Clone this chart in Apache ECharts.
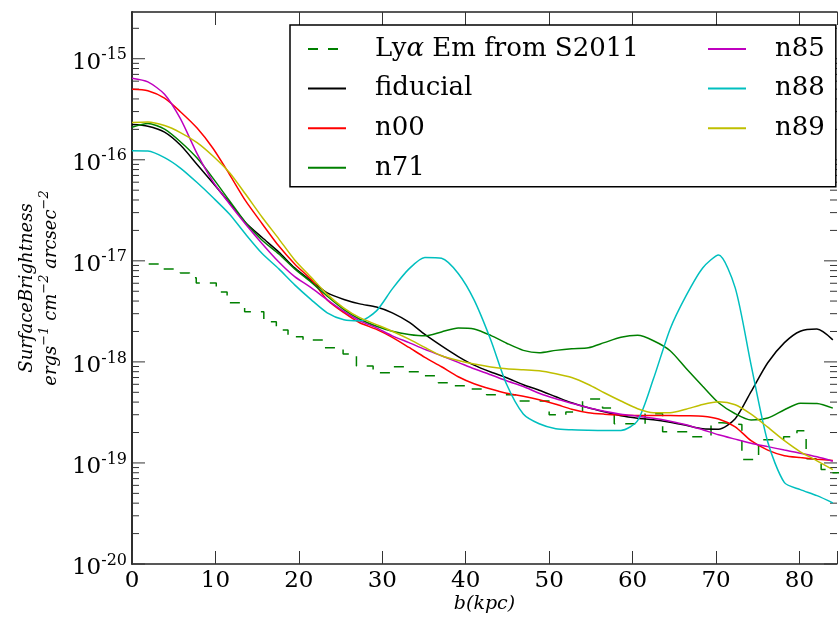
<!DOCTYPE html>
<html>
<head>
<meta charset="utf-8">
<title>Surface brightness profiles</title>
<script src="https://cdn.jsdelivr.net/npm/echarts@6/dist/echarts.min.js"></script>
<style>
  html, body { margin: 0; padding: 0; background: #fff; }
  #chart { width: 840px; height: 619px; }
</style>
</head>
<body>
<div id="chart"></div>
<script>
var radius = [0, 1.9, 3.9, 5.8, 7.8, 9.7, 11.7, 13.6, 15.6, 17.6, 19.5, 21.5, 23.4, 25.4, 27.3,
  29.3, 31.2, 33.2, 35.1, 37.1, 39.1, 41.0, 43.0, 44.9, 46.9, 48.8, 50.8, 52.7, 54.7, 56.6,
  58.6, 60.6, 62.5, 64.5, 66.4, 68.4, 70.3, 72.3, 74.2, 76.2, 78.2, 80.1, 82.1, 84.0];

var fiducial = [2.23e-16, 2.15e-16, 1.88e-16, 1.40e-16, 9.0e-17, 5.89e-17, 3.73e-17, 2.40e-17, 1.70e-17, 1.22e-17,
  8.51e-18, 6.3e-18, 4.82e-18, 4.15e-18, 3.75e-18, 3.49e-18, 3.06e-18, 2.47e-18, 1.87e-18, 1.44e-18,
  1.13e-18, 9.28e-19, 7.93e-19, 6.97e-19, 5.94e-19, 5.24e-19, 4.52e-19, 3.94e-19, 3.52e-19, 3.21e-19,
  2.93e-19, 2.77e-19, 2.68e-19, 2.53e-19, 2.36e-19, 2.18e-19, 2.16e-19, 2.74e-19, 5.07e-19, 9.8e-19,
  1.55e-18, 2.01e-18, 2.11e-18, 1.65e-18];

var n00 = [5.0e-16, 4.83e-16, 4.07e-16, 2.99e-16, 2.06e-16, 1.30e-16, 7.14e-17, 3.94e-17, 2.33e-17, 1.40e-17,
  9.32e-18, 6.48e-18, 4.11e-18, 3.07e-18, 2.44e-18, 2.10e-18, 1.75e-18, 1.39e-18, 1.11e-18, 8.95e-19,
  7.13e-19, 6.08e-19, 5.39e-19, 4.90e-19, 4.57e-19, 4.22e-19, 3.81e-19, 3.40e-19, 3.14e-19, 3.04e-19,
  2.98e-19, 2.95e-19, 2.95e-19, 2.95e-19, 2.93e-19, 2.90e-19, 2.72e-19, 2.28e-19, 1.66e-19, 1.34e-19,
  1.18e-19, 1.13e-19, 1.09e-19, 1.06e-19];

var n71 = [2.10e-16, 2.29e-16, 2.01e-16, 1.51e-16, 1.04e-16, 6.59e-17, 3.91e-17, 2.40e-17, 1.60e-17, 1.17e-17,
  8.32e-18, 6.12e-18, 4.47e-18, 3.29e-18, 2.64e-18, 2.25e-18, 2.01e-18, 1.87e-18, 1.81e-18, 1.98e-18,
  2.17e-18, 2.12e-18, 1.83e-18, 1.53e-18, 1.30e-18, 1.23e-18, 1.30e-18, 1.35e-18, 1.38e-18, 1.55e-18,
  1.75e-18, 1.83e-18, 1.62e-18, 1.29e-18, 8.65e-19, 5.74e-19, 3.94e-19, 3.07e-19, 2.66e-19, 2.78e-19,
  3.36e-19, 3.90e-19, 3.88e-19, 3.49e-19];

var n85 = [6.42e-16, 5.90e-16, 4.45e-16, 2.55e-16, 1.15e-16, 6.09e-17, 3.65e-17, 2.32e-17, 1.48e-17, 9.75e-18,
  6.98e-18, 5.40e-18, 4.11e-18, 3.16e-18, 2.55e-18, 2.17e-18, 1.81e-18, 1.55e-18, 1.33e-18, 1.15e-18,
  9.9e-19, 8.55e-19, 7.46e-19, 6.50e-19, 5.70e-19, 4.90e-19, 4.32e-19, 3.90e-19, 3.52e-19, 3.25e-19,
  3.04e-19, 2.90e-19, 2.77e-19, 2.59e-19, 2.39e-19, 2.13e-19, 1.90e-19, 1.72e-19, 1.57e-19, 1.45e-19,
  1.34e-19, 1.25e-19, 1.15e-19, 1.04e-19];

var n88 = [1.23e-16, 1.22e-16, 1.05e-16, 8.28e-17, 5.95e-17, 4.23e-17, 2.89e-17, 1.84e-17, 1.18e-17, 8.32e-18,
  5.78e-18, 4.11e-18, 3.06e-18, 2.61e-18, 2.55e-18, 3.20e-18, 5.28e-18, 8.32e-18, 1.08e-17, 1.06e-17,
  7.50e-18, 4.11e-18, 1.65e-18, 6.0e-19, 3.05e-19, 2.44e-19, 2.18e-19, 2.13e-19, 2.11e-19, 2.10e-19,
  2.10e-19, 2.62e-19, 6.8e-19, 2.12e-18, 4.50e-18, 8.51e-18, 1.14e-17, 5.40e-18, 9.36e-19, 1.61e-19,
  6.38e-20, 5.45e-20, 4.75e-20, 4.03e-20];

var n89 = [2.34e-16, 2.37e-16, 2.18e-16, 1.86e-16, 1.48e-16, 1.09e-16, 7.44e-17, 4.58e-17, 2.70e-17, 1.65e-17,
  1.02e-17, 6.82e-18, 4.66e-18, 3.41e-18, 2.74e-18, 2.34e-18, 2.01e-18, 1.68e-18, 1.39e-18, 1.15e-18,
  1.03e-18, 9.51e-19, 8.91e-19, 8.55e-19, 8.36e-19, 8.17e-19, 7.63e-19, 7.00e-19, 5.98e-19, 4.95e-19,
  4.10e-19, 3.44e-19, 3.14e-19, 3.14e-19, 3.40e-19, 3.79e-19, 4.03e-19, 3.77e-19, 3.04e-19, 2.26e-19,
  1.66e-19, 1.29e-19, 1.05e-19, 8.59e-20];

// observed Lya emission (S2011), binned -> drawn as steps
var lyaRadius = [2.0, 3.6, 5.8, 6.9, 7.7, 10.1, 11.4, 13.5, 15.8, 17.3, 18.7, 20.5, 23.0, 25.3, 26.9,
  28.9, 31.2, 33.1, 35.0, 36.7, 38.6, 40.5, 42.5, 46.0, 50.0, 52.0, 54.0, 56.4, 57.8, 61.5,
  63.6, 67.1, 69.4, 70.7, 73.1, 75.1, 78.1, 79.7, 80.8, 82.6, 83.6, 85.0];
var lyaEm = [9.3e-18, 8.3e-18, 7.6e-18, 6.8e-18, 6.05e-18, 4.93e-18, 3.84e-18, 3.13e-18, 2.49e-18, 2.07e-18,
  1.77e-18, 1.65e-18, 1.38e-18, 1.20e-18, 9.1e-19, 7.8e-19, 8.95e-19, 7.97e-19, 7.3e-19, 6.2e-19,
  5.8e-19, 5.4e-19, 4.73e-19, 4.1e-19, 3.0e-19, 3.2e-19, 4.3e-19, 3.5e-19, 2.44e-19, 3.07e-19,
  2.04e-19, 1.82e-19, 2.5e-19, 2.4e-19, 1.08e-19, 1.70e-19, 1.82e-19, 2.08e-19, 1.1e-19, 8.6e-20,
  8.0e-20, 8.0e-20];

var LYA = 'Ly\u03b1 Em from S2011';
var legendLeft = [LYA, 'fiducial', 'n00', 'n71'];
var legendRight = ['n85', 'n88', 'n89'];

// axis ranges; log ticks: majors at each decade, minors at 2..9
var X_MIN = 0, X_MAX = 84.5;
var Y_MIN = 1e-20, Y_MAX = 2.9e-15;
var tickDecades = [-20, -19, -18, -17, -16, -15];
var minorMantissas = [2, 3, 4, 5, 6, 7, 8, 9];

var yTickMarks = [];
tickDecades.forEach(function (d) {
  yTickMarks.push([X_MIN, Math.pow(10, d), 13]);
  minorMantissas.forEach(function (m) {
    var v = m * Math.pow(10, d);
    if (v < Y_MAX) yTickMarks.push([X_MIN, v, 7]);
  });
});

var FONT = 'DejaVu Serif';
var TICK = '#333';

function pairs(xs, ys) {
  return xs.map(function (x, i) { return [x, ys[i]]; });
}

function curve(name, color, values) {
  return {
    name: name,
    type: 'line',
    data: pairs(radius, values),
    symbol: 'none',
    smooth: 0.25,
    lineStyle: { color: color, width: 1.5 },
    itemStyle: { color: color },
    z: 3
  };
}

var legendText = {
  fontFamily: FONT,
  fontSize: 26,
  lineHeight: 30,
  color: '#000',
  padding: [0, 0, 0, 24],
  rich: {
    g: { fontFamily: FONT, fontStyle: 'italic', fontSize: 26, lineHeight: 30 }
  }
};

var myChart = echarts.init(document.getElementById('chart'), null, { renderer: 'canvas' });

var option = {
  animation: false,
  backgroundColor: '#fff',
  grid: { left: 132, top: 12, width: 712, height: 552 },
  legend: [
    {
      orient: 'vertical',
      left: 290,
      top: 25,
      data: legendLeft,
      itemWidth: 38,
      itemHeight: 14,
      itemGap: 9.6,
      padding: [9, 197, 4, 17],
      borderColor: '#000',
      borderWidth: 1.5,
      backgroundColor: '#fff',
      selectedMode: false,
      itemStyle: { opacity: 0 },
      textStyle: legendText,
      formatter: function (name) {
        return name === LYA ? 'Ly{g|\u03b1} Em from S2011' : name;
      }
    },
    {
      orient: 'vertical',
      left: 707,
      top: 34,
      data: legendRight,
      itemWidth: 38,
      itemHeight: 14,
      itemGap: 9.6,
      padding: 0,
      selectedMode: false,
      itemStyle: { opacity: 0 },
      textStyle: legendText
    }
  ],
  xAxis: [
    {
      type: 'value',
      min: X_MIN,
      max: X_MAX,
      interval: 10,
      name: 'b(kpc)',
      nameLocation: 'middle',
      nameGap: 31,
      nameMoveOverlap: false,
      nameTextStyle: { fontFamily: FONT, fontStyle: 'italic', fontSize: 19, color: '#000' },
      axisLine: { show: true, lineStyle: { color: '#222', width: 1.5 } },
      axisTick: { inside: true, length: 13, lineStyle: { color: TICK, width: 1 } },
      axisLabel: {
        margin: 6,
        fontFamily: FONT,
        fontSize: 23,
        color: '#000',
        formatter: function (v) { return Math.abs(v % 10) < 1e-9 ? String(v) : ''; }
      },
      splitLine: { show: false }
    },
    {
      type: 'value',
      position: 'top',
      min: X_MIN,
      max: X_MAX,
      interval: 10,
      axisLine: { show: true, lineStyle: { color: '#222', width: 1.5 } },
      axisTick: { inside: true, length: 13, lineStyle: { color: TICK, width: 1 } },
      axisLabel: { show: false },
      splitLine: { show: false }
    }
  ],
  yAxis: [
    {
      type: 'log',
      logBase: 10,
      min: Y_MIN,
      max: Y_MAX,
      name: '{i|SurfaceBrightness}\n{i|ergs}{s|\u22121}{i| cm}{s|\u22122}{i| arcsec}{s|\u22122}',
      nameLocation: 'middle',
      nameGap: 69,
      nameMoveOverlap: false,
      nameTextStyle: {
        color: '#000',
        fontFamily: FONT,
        fontStyle: 'italic',
        fontSize: 18,
        lineHeight: 24,
        rich: {
          i: { fontFamily: FONT, fontStyle: 'italic', fontSize: 18, lineHeight: 24 },
          s: { fontFamily: FONT, fontSize: 13, lineHeight: 12, padding: [0, 0, 12, 0] }
        }
      },
      axisLine: { show: true, lineStyle: { color: '#222', width: 1.5 } },
      axisTick: { show: false },
      axisLabel: {
        margin: 5,
        color: '#000',
        formatter: function (v) {
          var lg = Math.log10(v);
          var e = Math.round(lg);
          if (Math.abs(lg - e) > 1e-6) return '';
          return '{b|10}{s|' + e + '}';
        },
        rich: {
          b: { fontFamily: FONT, fontSize: 23, lineHeight: 30, padding: [8, 0, 0, 0] },
          s: { fontFamily: FONT, fontSize: 16, lineHeight: 16, padding: [0, 0, 7, 0] }
        }
      },
      splitLine: { show: false }
    },
    {
      type: 'log',
      logBase: 10,
      position: 'right',
      min: Y_MIN,
      max: Y_MAX,
      axisLine: { show: true, lineStyle: { color: '#222', width: 1.5 } },
      axisTick: { show: false },
      axisLabel: { show: false },
      splitLine: { show: false }
    }
  ],
  series: [
    {
      name: LYA,
      type: 'line',
      step: 'end',
      data: pairs(lyaRadius, lyaEm),
      symbol: 'none',
      lineStyle: { color: '#008000', width: 1.5, type: [10, 10] },
      itemStyle: { color: '#008000' },
      z: 3
    },
    curve('fiducial', '#000000', fiducial),
    curve('n00', '#ff0000', n00),
    curve('n71', '#008000', n71),
    curve('n85', '#bf00bf', n85),
    curve('n88', '#00bfbf', n88),
    curve('n89', '#bfbf00', n89),
    {
      // inward ticks of the log axes (left and right), placed through the y scale
      name: 'log ticks',
      type: 'custom',
      silent: true,
      clip: false,
      data: yTickMarks,
      renderItem: function (params, api) {
        var v = api.value(1);
        var len = api.value(2);
        var l = api.coord([X_MIN, v]);
        var r = api.coord([X_MAX, v]);
        var st = { stroke: TICK, lineWidth: 1 };
        return {
          type: 'group',
          children: [
            { type: 'line', shape: { x1: l[0], y1: l[1], x2: l[0] + len, y2: l[1] }, style: st },
            { type: 'line', shape: { x1: r[0] - len, y1: r[1], x2: r[0], y2: r[1] }, style: st }
          ]
        };
      },
      z: 2
    }
  ]
};

myChart.setOption(option);
</script>
</body>
</html>
